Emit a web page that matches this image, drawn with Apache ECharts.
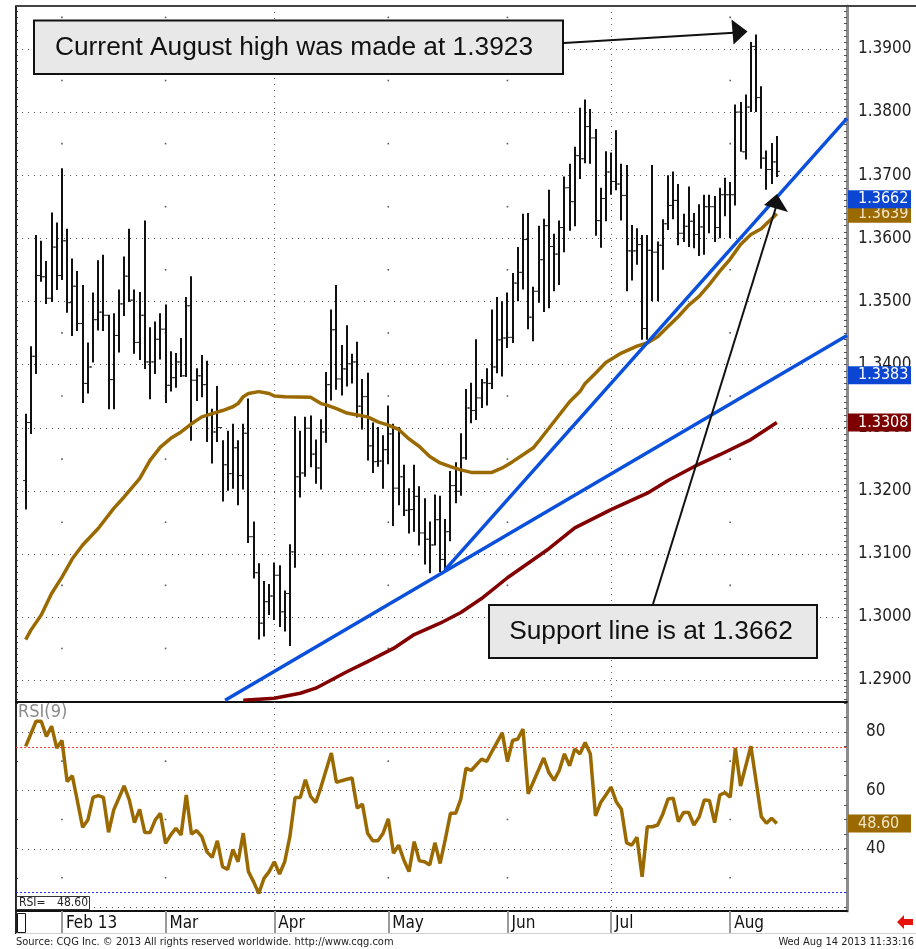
<!DOCTYPE html>
<html>
<head>
<meta charset="utf-8">
<script src="https://cdn.jsdelivr.net/npm/echarts@6.0.0/dist/echarts.min.js"></script>
<style>
  html, body { margin: 0; padding: 0; background: #fff; }
  #chart { width: 916px; height: 949px; }
</style>
</head>
<body>
<div id="chart"></div>
<script>
// trading days are indexed from 0 = Jan 23 2013 to 145 = Aug 14 2013
var monthStarts = [7, 27, 48, 70, 93, 113, 136];
var monthLabels = ["Feb 13", "Mar", "Apr", "May", "Jun", "Jul", "Aug"];
var quarterStarts = [48, 113];

var priceTicks = [1.29, 1.30, 1.31, 1.32, 1.33, 1.34, 1.35, 1.36, 1.37, 1.38, 1.39];
var priceHalfTicks = [1.295, 1.305, 1.315, 1.325, 1.335, 1.345, 1.355, 1.365, 1.375, 1.385, 1.395];
var rsiTicks = [40, 60, 80];
var rsiGridLevels = [20, 40, 60, 80];
var rsiHalfLevels = [30, 50, 70];
var rsiBands = [75, 25];

var barOpen = [
  1.3216, 1.3308, 1.3413, 1.3541, 1.3539, 1.3505, 1.3586, 1.3541, 1.3596, 1.3498,
  1.3524, 1.3465, 1.3370, 1.3396, 1.3471, 1.3483, 1.3478, 1.3376, 1.3446, 1.3496,
  1.3540, 1.3502, 1.3435, 1.3478, 1.3404, 1.3404, 1.3440, 1.3456, 1.3367, 1.3379,
  1.3404, 1.3382, 1.3493, 1.3375, 1.3382, 1.3368, 1.3322, 1.3293, 1.3300, 1.3241,
  1.3227, 1.3268, 1.3224, 1.3291, 1.3127, 1.3070, 1.2990, 1.3024, 1.3033, 1.3066,
  1.3008, 1.3037, 1.3103, 1.3222, 1.3228, 1.3299, 1.3258, 1.3236, 1.3293, 1.3368,
  1.3455, 1.3377, 1.3393, 1.3401, 1.3404, 1.3334, 1.3349, 1.3271, 1.3246, 1.3247,
  1.3265, 1.3290, 1.3204, 1.3222, 1.3169, 1.3170, 1.3191, 1.3133, 1.3123, 1.3114,
  1.3154, 1.3091, 1.3135, 1.3208, 1.3199, 1.3252, 1.3331, 1.3327, 1.3347, 1.3371,
  1.3370, 1.3396, 1.3439, 1.3442, 1.3443, 1.3529, 1.3546, 1.3598, 1.3475, 1.3516,
  1.3566, 1.3620, 1.3587, 1.3575, 1.3617, 1.3680, 1.3658, 1.3731, 1.3726, 1.3777,
  1.3759, 1.3628, 1.3663, 1.3705, 1.3690, 1.3686, 1.3668, 1.3580, 1.3580, 1.3590,
  1.3457, 1.3581, 1.3578, 1.3589, 1.3623, 1.3652, 1.3660, 1.3608, 1.3619, 1.3627,
  1.3606, 1.3618, 1.3650, 1.3650, 1.3617, 1.3669, 1.3669, 1.3669, 1.3800, 1.3737,
  1.3808, 1.3904, 1.3823, 1.3727, 1.3709, 1.3721
];
var barHigh = [
  1.3322, 1.3429, 1.3605, 1.3596, 1.3564, 1.3641, 1.3625, 1.3711, 1.3615, 1.3568,
  1.3548, 1.3526, 1.3435, 1.3514, 1.3565, 1.3574, 1.3479, 1.3481, 1.3519, 1.3571,
  1.3615, 1.3519, 1.3515, 1.3628, 1.3459, 1.3468, 1.3481, 1.3495, 1.3421, 1.3418,
  1.3442, 1.3507, 1.3540, 1.3394, 1.3415, 1.3406, 1.3330, 1.3366, 1.3280, 1.3295,
  1.3306, 1.3280, 1.3306, 1.3346, 1.3151, 1.3085, 1.3057, 1.3052, 1.3086, 1.3082,
  1.3042, 1.3115, 1.3318, 1.3295, 1.3317, 1.3319, 1.3281, 1.3313, 1.3388, 1.3487,
  1.3526, 1.3431, 1.3462, 1.3417, 1.3436, 1.3377, 1.3387, 1.3308, 1.3301, 1.3288,
  1.3335, 1.3306, 1.3301, 1.3241, 1.3204, 1.3241, 1.3207, 1.3188, 1.3151, 1.3194,
  1.3192, 1.3155, 1.3231, 1.3245, 1.3291, 1.3361, 1.3371, 1.3440, 1.3377, 1.3394,
  1.3487, 1.3507, 1.3500, 1.3514, 1.3545, 1.3586, 1.3639, 1.3640, 1.3523, 1.3620,
  1.3631, 1.3677, 1.3607, 1.3628, 1.3698, 1.3718, 1.3745, 1.3807, 1.3820, 1.3805,
  1.3773, 1.3680, 1.3738, 1.3736, 1.3771, 1.3718, 1.3716, 1.3621, 1.3616, 1.3605,
  1.3605, 1.3716, 1.3595, 1.3630, 1.3700, 1.3706, 1.3686, 1.3639, 1.3682, 1.3640,
  1.3654, 1.3669, 1.3669, 1.3667, 1.3680, 1.3696, 1.3689, 1.3812, 1.3816, 1.3828,
  1.3911, 1.3923, 1.3841, 1.3739, 1.3751, 1.3762
];
var barLow = [
  1.3170, 1.3290, 1.3385, 1.3531, 1.3496, 1.3499, 1.3518, 1.3534, 1.3482, 1.3445,
  1.3453, 1.3339, 1.3354, 1.3403, 1.3454, 1.3453, 1.3329, 1.3329, 1.3419, 1.3477,
  1.3499, 1.3417, 1.3407, 1.3393, 1.3345, 1.3385, 1.3408, 1.3339, 1.3357, 1.3363,
  1.3380, 1.3380, 1.3279, 1.3342, 1.3348, 1.3277, 1.3243, 1.3277, 1.3183, 1.3200,
  1.3203, 1.3177, 1.3202, 1.3117, 1.3061, 1.2964, 1.2969, 1.3003, 1.2995, 1.2984,
  1.2977, 1.2954, 1.3078, 1.3189, 1.3222, 1.3237, 1.3211, 1.3202, 1.3276, 1.3343,
  1.3360, 1.3351, 1.3365, 1.3370, 1.3316, 1.3297, 1.3248, 1.3228, 1.3238, 1.3203,
  1.3242, 1.3144, 1.3177, 1.3160, 1.3132, 1.3135, 1.3113, 1.3083, 1.3069, 1.3113,
  1.3071, 1.3071, 1.3120, 1.3180, 1.3192, 1.3249, 1.3307, 1.3312, 1.3331, 1.3335,
  1.3361, 1.3386, 1.3381, 1.3426, 1.3434, 1.3500, 1.3519, 1.3456, 1.3437, 1.3498,
  1.3483, 1.3489, 1.3516, 1.3526, 1.3578, 1.3612, 1.3619, 1.3694, 1.3719, 1.3718,
  1.3604, 1.3585, 1.3627, 1.3669, 1.3676, 1.3628, 1.3516, 1.3533, 1.3558, 1.3439,
  1.3439, 1.3500, 1.3500, 1.3550, 1.3613, 1.3630, 1.3589, 1.3594, 1.3586, 1.3584,
  1.3572, 1.3574, 1.3608, 1.3594, 1.3600, 1.3635, 1.3600, 1.3652, 1.3737, 1.3725,
  1.3800, 1.3800, 1.3710, 1.3677, 1.3686, 1.3697
];
var barClose = [
  1.3308, 1.3413, 1.3541, 1.3539, 1.3505, 1.3586, 1.3541, 1.3596, 1.3498, 1.3524,
  1.3465, 1.3370, 1.3396, 1.3471, 1.3483, 1.3478, 1.3376, 1.3446, 1.3496, 1.3540,
  1.3502, 1.3435, 1.3478, 1.3404, 1.3404, 1.3440, 1.3456, 1.3367, 1.3379, 1.3404,
  1.3382, 1.3493, 1.3375, 1.3382, 1.3368, 1.3322, 1.3293, 1.3300, 1.3241, 1.3227,
  1.3268, 1.3224, 1.3291, 1.3127, 1.3070, 1.2990, 1.3024, 1.3033, 1.3066, 1.3008,
  1.3037, 1.3103, 1.3222, 1.3228, 1.3299, 1.3258, 1.3236, 1.3293, 1.3368, 1.3455,
  1.3377, 1.3393, 1.3401, 1.3404, 1.3334, 1.3349, 1.3271, 1.3246, 1.3247, 1.3265,
  1.3290, 1.3204, 1.3222, 1.3169, 1.3170, 1.3191, 1.3133, 1.3123, 1.3114, 1.3154,
  1.3091, 1.3135, 1.3208, 1.3199, 1.3252, 1.3331, 1.3327, 1.3347, 1.3371, 1.3370,
  1.3396, 1.3439, 1.3442, 1.3443, 1.3529, 1.3546, 1.3598, 1.3475, 1.3516, 1.3566,
  1.3620, 1.3587, 1.3575, 1.3617, 1.3680, 1.3658, 1.3731, 1.3726, 1.3777, 1.3759,
  1.3628, 1.3663, 1.3705, 1.3690, 1.3686, 1.3668, 1.3580, 1.3580, 1.3590, 1.3457,
  1.3581, 1.3578, 1.3589, 1.3623, 1.3652, 1.3660, 1.3608, 1.3619, 1.3627, 1.3606,
  1.3618, 1.3650, 1.3650, 1.3617, 1.3669, 1.3669, 1.3669, 1.3800, 1.3737, 1.3808,
  1.3904, 1.3823, 1.3727, 1.3709, 1.3721, 1.3706
];

// moving averages, [day index, price]
var maBrown = [
  [0, 1.2964], [1, 1.2979], [3, 1.3003], [5, 1.3037], [7, 1.3063], [9, 1.3092], [11, 1.3114],
  [14, 1.3140], [17, 1.3172], [19, 1.3190], [22, 1.3219], [24, 1.3248], [26, 1.3269], [28, 1.3283],
  [30, 1.3293], [32, 1.3306], [34, 1.3317], [36, 1.3322], [38, 1.3327], [40, 1.3333], [41, 1.3338],
  [42, 1.3349], [43, 1.3354], [45, 1.3357], [47, 1.3354], [48, 1.3350], [50, 1.3349], [55, 1.3348],
  [57, 1.3338], [58, 1.3336], [60, 1.3330], [62, 1.3323], [64, 1.3320], [66, 1.3317], [68, 1.3309],
  [70, 1.3304], [72, 1.3297], [74, 1.3282], [76, 1.3270], [78, 1.3254], [80, 1.3244], [82, 1.3238],
  [84, 1.3233], [86, 1.3229], [90, 1.3229], [92, 1.3236], [94, 1.3246], [96, 1.3257], [98, 1.3268],
  [99, 1.3278], [101, 1.3299], [103, 1.3320], [105, 1.3341], [107, 1.3357], [108, 1.3370],
  [110, 1.3386], [112, 1.3403], [115, 1.3418], [118, 1.3429], [120, 1.3434], [122, 1.3444],
  [124, 1.3460], [126, 1.3476], [128, 1.3494], [130, 1.3508], [132, 1.3527], [134, 1.3548],
  [136, 1.3567], [138, 1.3590], [140, 1.3606], [142, 1.3615], [145, 1.3639]
];
var maRed = [
  [42, 1.2868], [48, 1.2871], [53, 1.2879], [56, 1.2887], [59, 1.2900], [62, 1.2913], [66, 1.2929],
  [71, 1.2950], [75, 1.2972], [80, 1.2990], [84, 1.3007], [88, 1.3029], [93, 1.3062], [101, 1.3108],
  [106, 1.3141], [113, 1.3170], [120, 1.3196], [124, 1.3216], [129, 1.3238], [134, 1.3257],
  [140, 1.3281], [145, 1.3308]
];

// trendlines, [day index, price] end points
var trendSteep = [[80.9, 1.3074], [158.55, 1.3790]];
var trendShallow = [[38.5, 1.2868], [158.55, 1.3446]];

var rsi = [
  [0, 75.1], [2, 83.7], [3, 83.7], [4, 78.5], [5, 82], [6, 74.5], [7, 77.1], [8, 63], [9, 65],
  [11, 47.3], [12, 49.8], [13, 57.6], [14, 58.2], [15, 57.6], [16, 45.6], [17, 53.3], [19, 61.5],
  [20, 56.7], [21, 48.9], [22, 53.5], [23, 45.5], [24, 45.5], [25, 49.8], [26, 52.1], [27, 41.8],
  [28, 44.7], [29, 47], [30, 44.7], [31, 58.4], [32, 45], [33, 46.2], [34, 44.1], [35, 38.9],
  [36, 37], [37, 42.7], [38, 33.8], [39, 32.9], [40, 39.7], [41, 35.5], [42, 45.3], [43, 32.1],
  [44, 28.6], [45, 24.6], [46, 29.8], [47, 32.1], [48, 35.5], [49, 31.3], [50, 35.5], [51, 44.1],
  [52, 57.5], [53, 57.5], [54, 63.6], [55, 57.9], [56, 55.8], [57, 61.1], [58, 67], [59, 72.8],
  [60, 62.7], [61, 63.3], [62, 63.8], [63, 64.2], [64, 53.9], [65, 55.3], [66, 45.3], [67, 42.7],
  [68, 42.7], [69, 45.3], [70, 50.2], [71, 38.4], [72, 41.2], [73, 36.1], [74, 32.1], [75, 42.4],
  [76, 35.8], [77, 35.5], [78, 34.4], [79, 42], [80, 34.9], [81, 43.2], [82, 52.1], [83, 52.1],
  [84, 57], [85, 67.6], [86, 66.8], [88, 70.7], [89, 69.9], [90, 73.3], [92, 79.7], [93, 69.9],
  [94, 77.1], [95, 77.6], [96, 81], [97, 58.8], [100, 71.1], [101, 66.1], [102, 63.4], [103, 66.8],
  [104, 72.5], [105, 68.4], [106, 74.2], [107, 72.5], [108, 76.4], [109, 72.5], [110, 51.2],
  [111, 55.8], [112, 58.4], [113, 61.1], [114, 56.1], [115, 53.5], [116, 42], [117, 41.2],
  [118, 43.9], [119, 30.3], [120, 47.5], [121, 47.5], [122, 48.1], [123, 51.9], [124, 57],
  [125, 57.3], [126, 49.3], [127, 52.4], [128, 52.4], [129, 48.1], [130, 50.8], [131, 56.7],
  [132, 56.5], [133, 48.9], [134, 58.4], [135, 59.2], [136, 57.6], [137, 74.5], [138, 61.5],
  [140, 75.1], [142, 51], [143, 48.7], [144, 50.4], [145, 48.6]
];

// last-value tags on the right scale
var priceTags = [1.3639, 1.3662, 1.3383, 1.3308];
var rsiTag = [48.60];

var X_MIN = -1.87, X_MAX = 158.55;
var AXIS_FONT = '"Liberation Sans Narrow", "DejaVu Sans Condensed", "Liberation Sans", sans-serif';
var BROWN = "#9a6a00", DARKRED = "#820000", BLUE = "#0a50dc";

var tagFill = ["#9a6a00", "#0a46d2", "#0a46d2", "#7d0000"];
var tagInk = ["#f3e4c4", "#ffffff", "#ffffff", "#ffffff"];

function range(a, b, step) {
  var out = [];
  for (var v = a; v <= b + step / 2; v += step) out.push(Math.round(v * 10000) / 10000);
  return out;
}

var ohlc = barClose.map(function (c, i) { return [i, barOpen[i], barHigh[i], barLow[i], c]; });

function hLines(levels, xi, yi, stroke, dash) {
  return {
    type: "custom", xAxisIndex: xi, yAxisIndex: yi, silent: true, z: 1,
    data: levels.map(function (v) { return [0, v]; }),
    renderItem: function (params, api) {
      var cs = params.coordSys;
      var y = Math.round(api.coord([0, api.value(1)])[1]) + 0.5;
      return { type: "line", shape: { x1: cs.x, y1: y, x2: cs.x + cs.width, y2: y },
               style: { stroke: stroke, lineWidth: 1, lineDash: dash } };
    }
  };
}
function vLines(days, xi, yi, yRef) {
  return {
    type: "custom", xAxisIndex: xi, yAxisIndex: yi, silent: true, z: 1,
    data: days.map(function (d) { return [d, yRef]; }),
    renderItem: function (params, api) {
      var cs = params.coordSys;
      var x = Math.round(api.coord([api.value(0), yRef])[0]) + 0.5;
      return { type: "line", shape: { x1: x, y1: cs.y, x2: x, y2: cs.y + cs.height },
               style: { stroke: "#666", lineWidth: 1, lineDash: [1, 5] } };
    }
  };
}
function dots(days, levels, xi, yi) {
  var pts = [];
  days.forEach(function (d) { levels.forEach(function (l) { pts.push([d, l]); }); });
  return { type: "scatter", xAxisIndex: xi, yAxisIndex: yi, silent: true, z: 1,
           symbol: "rect", symbolSize: 1.6, itemStyle: { color: "#333" }, data: pts };
}
function tags(values, xi, yi, digits, fills, inks) {
  return {
    type: "custom", xAxisIndex: xi, yAxisIndex: yi, silent: true, clip: false, z: 20,
    data: values.map(function (v) { return [X_MAX, v]; }),
    renderItem: function (params, api) {
      var cs = params.coordSys;
      var y = api.coord([X_MAX, api.value(1)])[1];
      var x0 = cs.x + cs.width + 1;
      return { type: "group", children: [
        { type: "rect", shape: { x: x0, y: y - 9, width: 63, height: 18 }, style: { fill: fills[params.dataIndex] } },
        { type: "text", style: { text: api.value(1).toFixed(digits), x: x0 + 10, y: y,
          fill: inks[params.dataIndex], font: "16px " + AXIS_FONT, textAlign: "left", textVerticalAlign: "middle" } }
      ] };
    }
  };
}

var halfMonths = monthStarts.filter(function (d) { return quarterStarts.indexOf(d) < 0; });

var option = {
  animation: false,
  backgroundColor: "#ffffff",
  grid: [
    { left: 16, top: 6, width: 831, height: 696 },
    { left: 16, top: 702, width: 831, height: 209 }
  ],
  xAxis: [
    { type: "value", gridIndex: 0, min: X_MIN, max: X_MAX,
      axisLine: { onZero: false, lineStyle: { color: "#111", width: 2 } },
      axisTick: { show: false }, axisLabel: { show: false }, splitLine: { show: false } },
    { type: "value", gridIndex: 1, min: X_MIN, max: X_MAX,
      axisLine: { onZero: false, lineStyle: { color: "#111", width: 2 } },
      axisTick: { show: true, inside: false, length: 23, customValues: monthStarts,
                  lineStyle: { color: "#9a9a9a", width: 2 } },
      axisLabel: { show: true, customValues: monthStarts, align: "left", margin: 4,
                   padding: [0, 0, 0, 4], color: "#111", fontSize: 17, fontFamily: AXIS_FONT,
                   formatter: function (v) { return monthLabels[monthStarts.indexOf(Math.round(v))] || ""; } },
      splitLine: { show: false } }
  ],
  yAxis: [
    { type: "value", gridIndex: 0, position: "right", min: 1.28651, max: 1.39681,
      axisLine: { show: true, onZero: false, lineStyle: { color: "#8c8c8c", width: 3 } },
      axisTick: { show: true, inside: true, length: 3, customValues: range(1.287, 1.396, 0.001),
                  lineStyle: { color: "#555" } },
      axisLabel: { show: true, customValues: priceTicks, margin: 11, color: "#222",
                   fontSize: 17, fontFamily: AXIS_FONT, formatter: function (v) { return v.toFixed(4); } },
      splitLine: { show: false } },
    { type: "value", gridIndex: 1, position: "right", min: 18.6, max: 90.3,
      axisLine: { show: true, onZero: false, lineStyle: { color: "#8c8c8c", width: 3 } },
      axisTick: { show: true, inside: true, length: 3, customValues: range(20, 90, 5),
                  lineStyle: { color: "#555" } },
      axisLabel: { show: true, customValues: rsiTicks, margin: 19, color: "#222",
                   fontSize: 17, fontFamily: AXIS_FONT },
      splitLine: { show: false } },
    { type: "value", gridIndex: 0, position: "left", min: 1.28651, max: 1.39681,
      axisLine: { show: true, onZero: false, lineStyle: { color: "#222", width: 2 } },
      axisTick: { show: true, inside: true, length: 2, customValues: range(1.287, 1.396, 0.001),
                  lineStyle: { color: "#333" } },
      axisLabel: { show: false }, splitLine: { show: false } },
    { type: "value", gridIndex: 1, position: "left", min: 18.6, max: 90.3,
      axisLine: { show: true, onZero: false, lineStyle: { color: "#222", width: 2 } },
      axisTick: { show: true, inside: true, length: 2, customValues: range(20, 90, 10),
                  lineStyle: { color: "#333" } },
      axisLabel: { show: false }, splitLine: { show: false } }
  ],
  series: [
    // price pane
    hLines(priceTicks, 0, 0, "#555", [1, 5]),
    vLines(quarterStarts, 0, 0, 1.34),
    dots(halfMonths, priceHalfTicks, 0, 0),
    {
      type: "custom", xAxisIndex: 0, yAxisIndex: 0, silent: true, z: 3,
      data: ohlc,
      renderItem: function (params, api) {
        var i = api.value(0);
        var top = api.coord([i, api.value(2)]);
        var bot = api.coord([i, api.value(3)]);
        var po = api.coord([i, api.value(1)]);
        var pc = api.coord([i, api.value(4)]);
        var x = Math.round(top[0]);
        return { type: "group", children: [
          { type: "line", shape: { x1: x, y1: top[1], x2: x, y2: bot[1] }, style: { stroke: "#111", lineWidth: 2 } },
          { type: "line", shape: { x1: x - 3, y1: po[1], x2: x - 1, y2: po[1] }, style: { stroke: "#222", lineWidth: 1 } },
          { type: "line", shape: { x1: x + 1, y1: pc[1], x2: x + 3, y2: pc[1] }, style: { stroke: "#222", lineWidth: 1 } }
        ] };
      }
    },
    { type: "line", xAxisIndex: 0, yAxisIndex: 0, data: maBrown, symbol: "none", z: 4, silent: true,
      lineStyle: { color: BROWN, width: 3.5 } },
    { type: "line", xAxisIndex: 0, yAxisIndex: 0, data: maRed, symbol: "none", z: 4, silent: true,
      lineStyle: { color: DARKRED, width: 3.5 } },
    { type: "line", xAxisIndex: 0, yAxisIndex: 0, data: trendSteep, symbol: "none", z: 5, silent: true,
      lineStyle: { color: BLUE, width: 3.5 } },
    { type: "line", xAxisIndex: 0, yAxisIndex: 0, data: trendShallow, symbol: "none", z: 5, silent: true,
      lineStyle: { color: BLUE, width: 3.5 } },
    tags(priceTags, 0, 0, 4, tagFill, tagInk),

    // RSI pane
    hLines(rsiGridLevels, 1, 1, "#555", [1, 5]),
    hLines([rsiBands[0]], 1, 1, "#ff3b3b", [2, 2]),
    hLines([rsiBands[1]], 1, 1, "#2233ee", [2, 2]),
    vLines(quarterStarts, 1, 1, 50),
    dots(halfMonths, rsiHalfLevels, 1, 1),
    { type: "line", xAxisIndex: 1, yAxisIndex: 1, data: rsi, symbol: "none", z: 4, silent: true,
      lineStyle: { color: BROWN, width: 3.5 } },
    tags(rsiTag, 1, 1, 2, [BROWN], ["#f3e4c4"])
  ],
  graphic: [
    // frame pieces
    { type: "line", z: 50, shape: { x1: 16, y1: 6, x2: 916, y2: 6 }, style: { stroke: "#444", lineWidth: 2 } },
    { type: "line", z: 50, shape: { x1: 16, y1: 911, x2: 16, y2: 934 }, style: { stroke: "#222", lineWidth: 2 } },
    { type: "line", z: 50, shape: { x1: 16, y1: 933.5, x2: 916, y2: 933.5 }, style: { stroke: "#d0d0d0", lineWidth: 1 } },
    { type: "rect", z: 50, shape: { x: 17.5, y: 913.5, width: 8, height: 19 }, style: { fill: "#fff", stroke: "#111", lineWidth: 1 } },
    // RSI labels
    { type: "text", z: 50, left: 18, top: 703, style: { text: "RSI(9)", fill: "#8a8a8a", font: "18px " + AXIS_FONT } },
    { type: "rect", z: 50, shape: { x: 16.5, y: 896.5, width: 73, height: 13 }, style: { fill: "#fff", stroke: "#333", lineWidth: 1 } },
    { type: "text", z: 51, left: 19, top: 897, style: { text: "RSI=", fill: "#222", font: "12px " + AXIS_FONT } },
    { type: "text", z: 51, right: 916 - 88, top: 897, style: { text: "48.60", fill: "#222", font: "12px " + AXIS_FONT } },
    // red arrow, bottom right
    { type: "polygon", z: 50, shape: { points: [[897, 922], [904, 915], [904, 919], [913, 919], [913, 925], [904, 925], [904, 929]] },
      style: { fill: "#e8120c" } },
    // footer
    { type: "text", z: 50, left: 16, top: 937, style: { text: "Source: CQG Inc. \u00a9 2013 All rights reserved worldwide. http://www.cqg.com",
      fill: "#222", font: "11px " + AXIS_FONT } },
    { type: "text", z: 50, right: 2, top: 937, style: { text: "Wed Aug 14 2013 11:33:16", fill: "#222", font: "11px " + AXIS_FONT } },

    // callout 1
    { type: "rect", z: 60, shape: { x: 34, y: 20.5, width: 529, height: 53.5 }, style: { fill: "#e8e8e8", stroke: "#111", lineWidth: 2 } },
    { type: "text", z: 61, style: { text: "Current August high was made at 1.3923", x: 55, y: 47.5,
      textVerticalAlign: "middle", fill: "#111", font: "26.3px 'Liberation Sans', Arial, sans-serif" } },
    { type: "line", z: 60, shape: { x1: 564, y1: 43, x2: 738, y2: 32.5 }, style: { stroke: "#111", lineWidth: 2 } },
    { type: "polygon", z: 60, shape: { points: [[731.5, 19.5], [747.5, 31.5], [733.5, 44.5]] }, style: { fill: "#111" } },

    // callout 2
    { type: "rect", z: 60, shape: { x: 489, y: 605, width: 328, height: 53 }, style: { fill: "#e8e8e8", stroke: "#111", lineWidth: 2 } },
    { type: "text", z: 61, style: { text: "Support line is at 1.3662", x: 651, y: 632,
      textAlign: "center", textVerticalAlign: "middle", fill: "#111", font: "26.3px 'Liberation Sans', Arial, sans-serif" } },
    { type: "line", z: 60, shape: { x1: 653, y1: 604, x2: 776, y2: 207 }, style: { stroke: "#111", lineWidth: 2 } },
    { type: "polygon", z: 60, shape: { points: [[764, 205], [777, 194], [788, 212]] }, style: { fill: "#111" } }
  ]
};

var chart = echarts.init(document.getElementById("chart"));
chart.setOption(option);
</script>
</body>
</html>
